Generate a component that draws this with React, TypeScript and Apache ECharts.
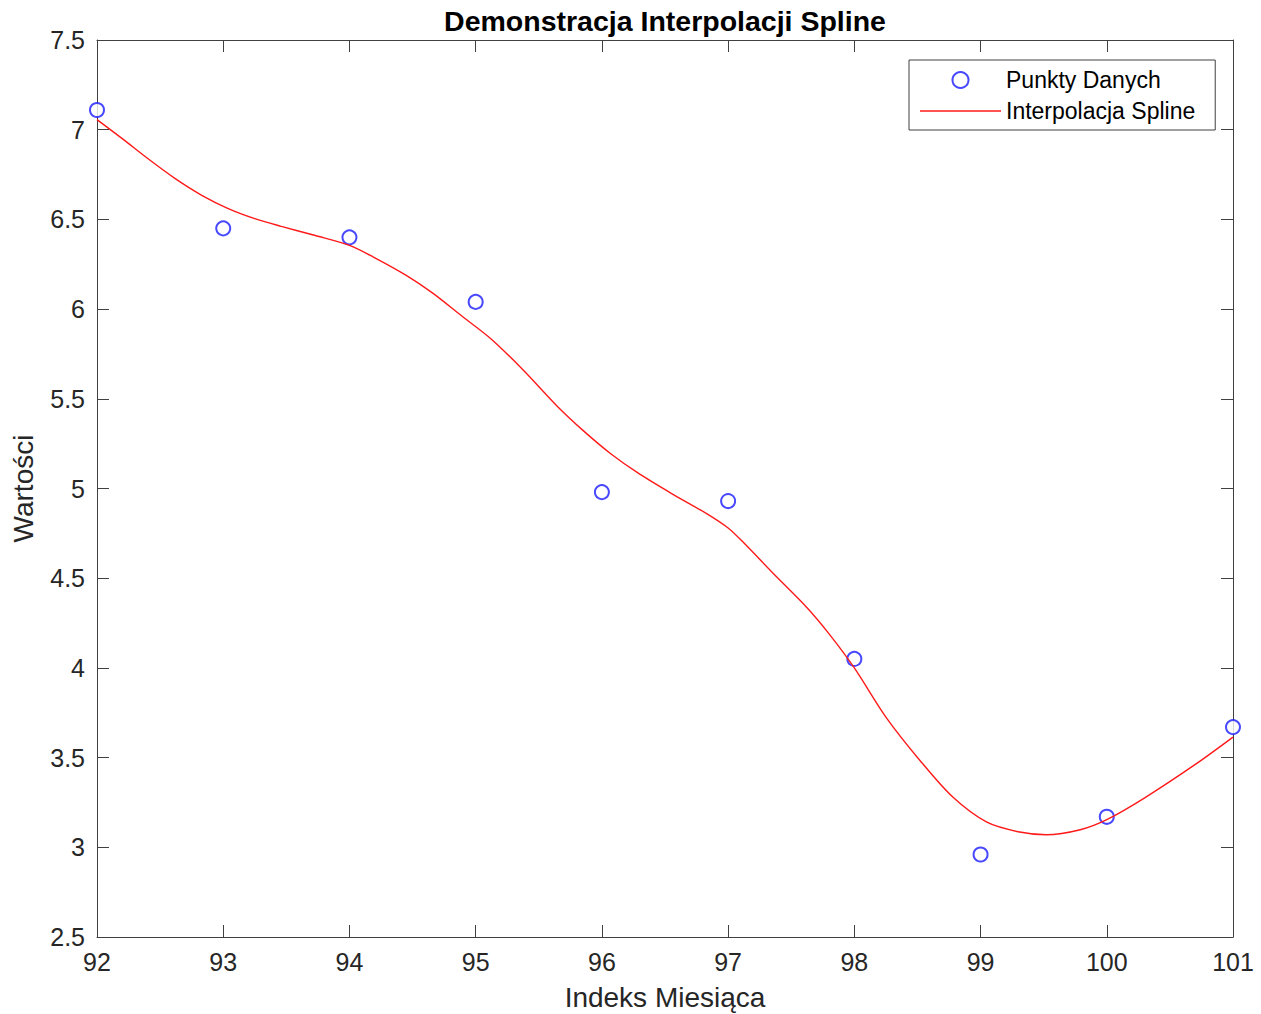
import React, { useEffect, useRef } from "react";
import * as echarts from "echarts";

// Data points (month index -> value)
const pointX = [92, 93, 94, 95, 96, 97, 98, 99, 100, 101];
const pointY = [7.11, 6.45, 6.40, 6.04, 4.98, 4.93, 4.05, 2.96, 3.17, 3.67];

// Spline curve
const curveX = [
  92.0, 92.2, 92.41, 92.62, 92.83, 93.04, 93.25, 93.46, 93.73, 94.0,
  94.19, 94.45, 94.66, 94.9, 95.12, 95.38, 95.64, 95.85, 96.07, 96.3,
  96.57, 96.83, 97.0, 97.12, 97.36, 97.62, 97.8, 98.0, 98.25, 98.52,
  98.78, 99.05, 99.31, 99.52, 99.79, 100.0, 100.31, 100.71, 101.0,
];
const curveY = [
  7.056, 6.95, 6.835, 6.727, 6.634, 6.56, 6.504, 6.461, 6.41, 6.355,
  6.29, 6.188, 6.089, 5.956, 5.835, 5.658, 5.463, 5.324, 5.194, 5.08,
  4.965, 4.86, 4.78, 4.70, 4.525, 4.34, 4.19, 4.0, 3.726, 3.484,
  3.28, 3.14, 3.085, 3.07, 3.098, 3.154, 3.28, 3.466, 3.614,
];

const titleText = "Demonstracja Interpolacji Spline";
const xName = "Indeks Miesiąca";
const yName = "Wartości";
const seriesNames = ["Punkty Danych", "Interpolacja Spline"];

const FONT = "'Liberation Sans', Arial, Helvetica, sans-serif";
const AX = "#404040";

export default function App() {
  const ref = useRef<HTMLDivElement>(null);
  useEffect(() => {
    if (!ref.current) return;
    const chart = echarts.init(ref.current, undefined, { renderer: "svg" });
    const axisCommon = {
      axisLine: { show: true, lineStyle: { color: AX, width: 1 } },
      axisTick: { show: true, inside: true, length: 12, lineStyle: { color: AX, width: 1 } },
      splitLine: { show: false },
    };
    chart.setOption({
      animation: false,
      backgroundColor: "#ffffff",
      textStyle: { fontFamily: FONT },
      grid: { left: 97, right: 28, top: 40, bottom: 77, containLabel: false, outerBoundsMode: "none" },
      graphic: [
        {
          type: "text",
          x: 665,
          y: 21,
          style: {
            text: titleText,
            font: `bold 28.5px ${FONT}`,
            fill: "#000000",
            align: "center",
            verticalAlign: "middle",
          },
        },
      ],
      legend: {
        orient: "vertical",
        left: 909,
        top: 60,
        padding: [7, 20, 6, 11],
        itemWidth: 81,
        itemHeight: 16,
        itemGap: 5,
        borderColor: AX,
        borderWidth: 1,
        backgroundColor: "#ffffff",
        textStyle: { fontSize: 23, color: "#000000", fontFamily: FONT, lineHeight: 26 },
        data: [
          { name: seriesNames[0], icon: "emptyCircle" },
          { name: seriesNames[1], icon: "path://M0,0H80V1.4H0Z" },
        ],
      },
      xAxis: [
        {
          type: "value",
          min: 92,
          max: 101,
          interval: 1,
          name: xName,
          nameLocation: "middle",
          nameGap: 46,
          nameTextStyle: { fontSize: 28, color: "#262626", fontFamily: FONT },
          axisLabel: { fontSize: 25, color: "#262626", margin: 12, fontFamily: FONT },
          ...axisCommon,
        },
        {
          type: "value",
          position: "top",
          min: 92,
          max: 101,
          interval: 1,
          axisLabel: { show: false },
          ...axisCommon,
        },
      ],
      yAxis: [
        {
          type: "value",
          min: 2.5,
          max: 7.5,
          interval: 0.5,
          name: yName,
          nameLocation: "middle",
          nameGap: 60,
          nameTextStyle: { fontSize: 28, color: "#262626", fontFamily: FONT },
          axisLabel: { fontSize: 25, color: "#262626", margin: 12, fontFamily: FONT },
          ...axisCommon,
        },
        {
          type: "value",
          position: "right",
          min: 2.5,
          max: 7.5,
          interval: 0.5,
          axisLabel: { show: false },
          ...axisCommon,
        },
      ],
      series: [
        {
          name: seriesNames[0],
          type: "scatter",
          xAxisIndex: 0,
          yAxisIndex: 0,
          symbol: "emptyCircle",
          symbolSize: 14,
          itemStyle: { color: "#1a1aff", borderColor: "#1a1aff", borderWidth: 1.4 },
          data: pointX.map((x, i) => [x, pointY[i]]),
          z: 2,
        },
        {
          name: seriesNames[1],
          type: "line",
          xAxisIndex: 0,
          yAxisIndex: 0,
          symbol: "none",
          smooth: 0.3,
          lineStyle: { color: "#ff1a1a", width: 1.4 },
          itemStyle: { color: "#ff1a1a" },
          data: curveX.map((x, i) => [x, curveY[i]]),
          z: 3,
        },
      ],
    });
    return () => chart.dispose();
  }, []);
  return (
    <div
      ref={ref}
      style={{ position: "fixed", left: 0, top: 0, width: 1261, height: 1014, background: "#fff" }}
    />
  );
}
